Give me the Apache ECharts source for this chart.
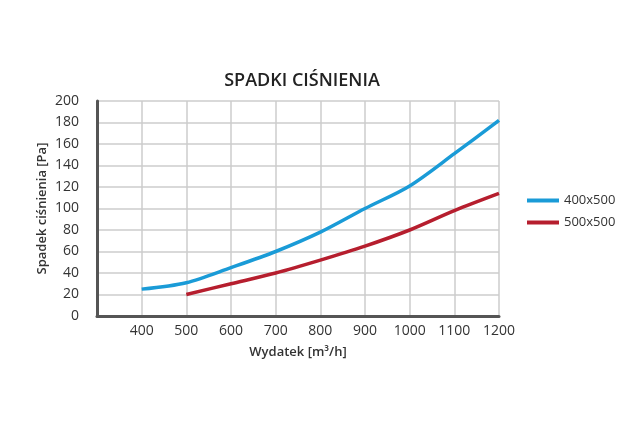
<!DOCTYPE html>
<html>
<head>
<meta charset="utf-8">
<script src="https://cdn.jsdelivr.net/npm/echarts@6/dist/echarts.min.js"></script>
<style>
  html, body { margin: 0; padding: 0; background: #fff; }
  #chart { width: 640px; height: 427px; }
</style>
</head>
<body>
<div id="chart"></div>
<script>
const flow400 = [400, 500, 600, 700, 800, 900, 1000, 1100, 1200]
const drop400 = [25, 31, 45, 60, 78, 100, 121, 151, 182]
const flow500 = [500, 600, 700, 800, 900, 1000, 1100, 1200]
const drop500 = [20, 30, 40, 52, 65, 80, 98, 114]
const seriesNames = ['400x500', '500x500']

const font = '"Open Sans", sans-serif'
const chart = echarts.init(document.getElementById('chart'))

function pairs(xs, ys) {
  return xs.map((x, i) => [x, ys[i]])
}

chart.setOption({
  animation: false,
  textStyle: { fontFamily: font },
  title: {
    text: 'SPADKI CIŚNIENIA',
    left: 297,
    textAlign: 'center',
    top: 67,
    textStyle: { fontFamily: font, fontSize: 18, fontWeight: 600, color: '#222' },
  },
  legend: {
    orient: 'vertical',
    left: 522,
    top: 189,
    itemWidth: 32,
    itemHeight: 4,
    itemGap: 9,
    icon: 'rect',
    textStyle: { fontFamily: font, fontSize: 13, color: '#333' },
    data: seriesNames,
  },
  grid: { left: 97, right: 141, top: 101, bottom: 111 },
  xAxis: {
    type: 'value',
    min: 300,
    max: 1200,
    interval: 100,
    name: 'Wydatek [m³/h]',
    nameLocation: 'middle',
    nameGap: 30,
    nameMoveOverlap: false,
    nameTextStyle: { fontFamily: font, fontSize: 13, fontWeight: 600, color: '#333' },
    axisLine: { show: true, lineStyle: { color: '#555', width: 3 } },
    axisTick: { show: false },
    axisLabel: {
      fontFamily: font,
      fontSize: 14,
      color: '#333',
      margin: 8,
      formatter: (v) => (v === 300 ? '' : v),
    },
    splitLine: { show: true, lineStyle: { color: '#ccc', width: 1.5 } },
  },
  yAxis: {
    type: 'value',
    min: 0,
    max: 200,
    interval: 20,
    name: 'Spadek ciśnienia [Pa]',
    nameLocation: 'middle',
    nameGap: 48,
    nameMoveOverlap: false,
    nameTextStyle: { fontFamily: font, fontSize: 13, fontWeight: 600, color: '#333' },
    axisLine: { show: true, lineStyle: { color: '#555', width: 3 } },
    axisTick: { show: false },
    axisLabel: { fontFamily: font, fontSize: 14, color: '#333', margin: 18 },
    splitLine: { show: true, lineStyle: { color: '#ccc', width: 1.5 } },
  },
  series: [
    {
      name: seriesNames[0],
      type: 'line',
      smooth: 0.3,
      symbol: 'none',
      data: pairs(flow400, drop400),
      lineStyle: { color: '#1a9bd7', width: 3.5 },
      itemStyle: { color: '#1a9bd7' },
    },
    {
      name: seriesNames[1],
      type: 'line',
      smooth: 0.3,
      symbol: 'none',
      data: pairs(flow500, drop500),
      lineStyle: { color: '#b61e2e', width: 3.5 },
      itemStyle: { color: '#b61e2e' },
    },
  ],
})
</script>
</body>
</html>
